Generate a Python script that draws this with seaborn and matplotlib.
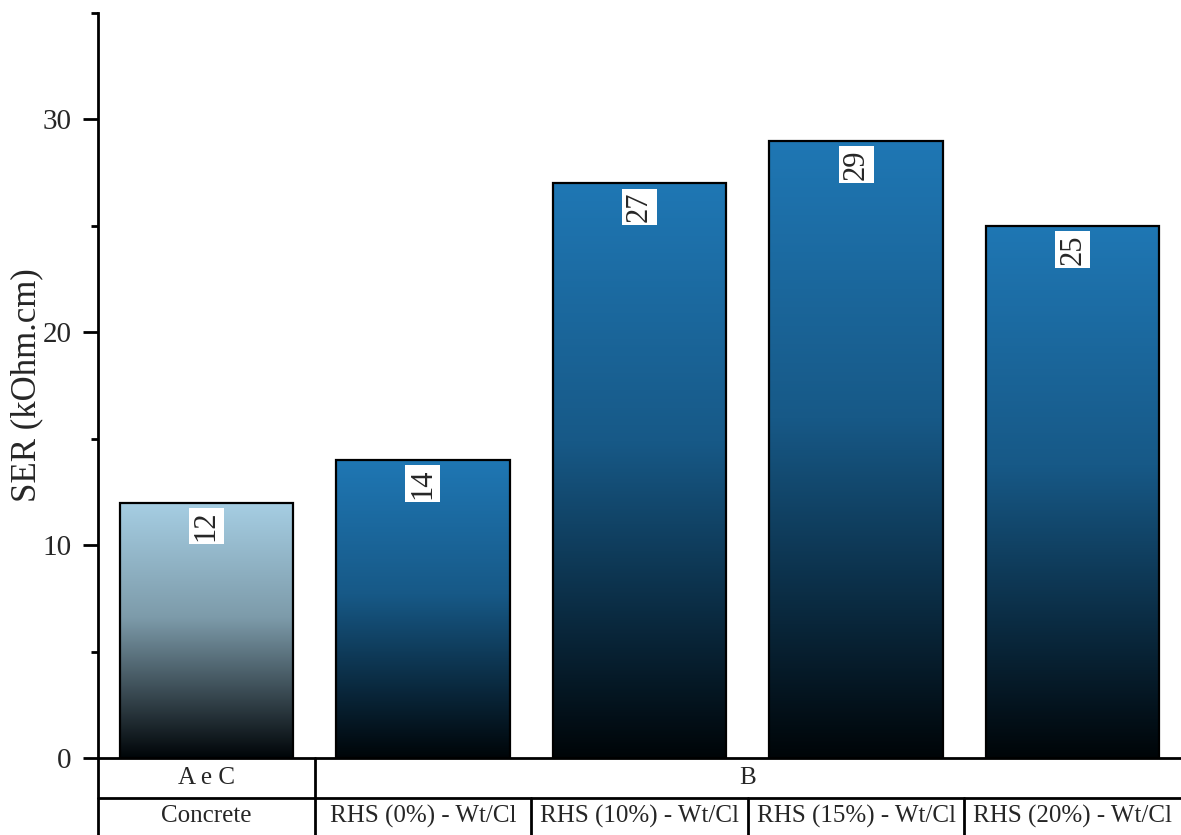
import numpy as np
import pandas as pd
import matplotlib
matplotlib.use("Agg")
import matplotlib.pyplot as plt
import matplotlib.colors as mcolors
import seaborn as sns

# Surface electrical resistivity per mix
samples = ["Concrete", "RHS (0%) - Wt/Cl", "RHS (10%) - Wt/Cl",
           "RHS (15%) - Wt/Cl", "RHS (20%) - Wt/Cl"]
ser_values = [12, 14, 27, 29, 25]
groups = ["A e C", "B", "B", "B", "B"]
top_colors = ["#a6cee3", "#1f77b4", "#1f77b4", "#1f77b4", "#1f77b4"]

df = pd.DataFrame({"sample": samples, "ser": ser_values, "group": groups})

sns.set_theme(style="white")
plt.rcParams["font.family"] = ["Liberation Serif", "DejaVu Serif"]

W, H = 1181, 835
fig = plt.figure(figsize=(W / 100, H / 100), dpi=100)
ax = fig.add_axes([98 / W, 77 / H, (W - 98) / W, (758 - 13) / H])

sns.barplot(data=df, x="sample", y="ser", order=samples, width=0.8,
            color="white", edgecolor="black", linewidth=1.6, ax=ax,
            errorbar=None)

# Vertical colour-to-black gradient inside every bar
ramp = np.linspace(0, 1, 256)[:, None]
for patch, col in zip(ax.patches, top_colors):
    x0, y0 = patch.get_x(), patch.get_y()
    w, h = patch.get_width(), patch.get_height()
    cmap = mcolors.LinearSegmentedColormap.from_list(
        "bar_grad", [(0.0, "#000508"), (0.55, mcolors.to_hex(
            np.array(mcolors.to_rgb(col)) * 0.75)), (1.0, col)])
    im = ax.imshow(ramp, cmap=cmap, aspect="auto", origin="lower",
                   extent=[x0, x0 + w, y0, y0 + h], zorder=1.5,
                   interpolation="bilinear")
    im.set_clip_path(patch)
    patch.set_facecolor("none")
    patch.set_zorder(2)

# Value labels, rotated, on white boxes just below each bar top
for i, v in enumerate(ser_values):
    ax.annotate(f"{v}", xy=(i, v), xytext=(0, -17), textcoords="offset points",
                rotation=90, ha="center", va="center", fontsize=22,
                bbox=dict(boxstyle="square,pad=0.1", fc="white", ec="none"),
                zorder=3)

ax.set_xlim(-0.5, 4.5)
ax.set_ylim(0, 35)
ax.set_yticks([0, 10, 20, 30])
ax.set_yticks([5, 15, 25, 35], minor=True)
ax.tick_params(axis="y", which="major", direction="out", length=11,
               width=2, labelsize=21, pad=8, left=True, color="black")
ax.tick_params(axis="y", which="minor", direction="out", length=5,
               width=2, left=True, color="black")
ax.set_xticks([])
ax.set_xlabel("")
ax.set_ylabel("SER (kOhm.cm)", fontsize=25)
ax.yaxis.label.set_va("center")
ax.yaxis.set_label_coords(-71 / (W - 98), 0.5)

for side in ["top", "right"]:
    ax.spines[side].set_visible(False)
for side in ["left", "bottom"]:
    ax.spines[side].set_linewidth(2)
    ax.spines[side].set_color("black")

# Two-row category table under the x axis
trans = ax.get_xaxis_transform()
row_h = 40 / 745
bottom = -77 / 745
lk = dict(color="black", lw=2, transform=trans, clip_on=False)
ax.plot([-0.5, 4.5], [-row_h, -row_h], **lk)
ax.plot([-0.5, -0.5], [0, bottom], **lk)
ax.plot([0.5, 0.5], [0, bottom], **lk)
for xb in [1.5, 2.5, 3.5]:
    ax.plot([xb, xb], [-row_h, bottom], **lk)

ax.text(0, -row_h / 2, "A e C", transform=trans, ha="center", va="center",
        fontsize=18)
ax.text(2.5, -row_h / 2, "B", transform=trans, ha="center", va="center",
        fontsize=18)
for i, s in enumerate(samples):
    ax.text(i, (-row_h + bottom) / 2, s, transform=trans, ha="center",
            va="center", fontsize=18)

fig.savefig("out.png", dpi=100, facecolor="white")
